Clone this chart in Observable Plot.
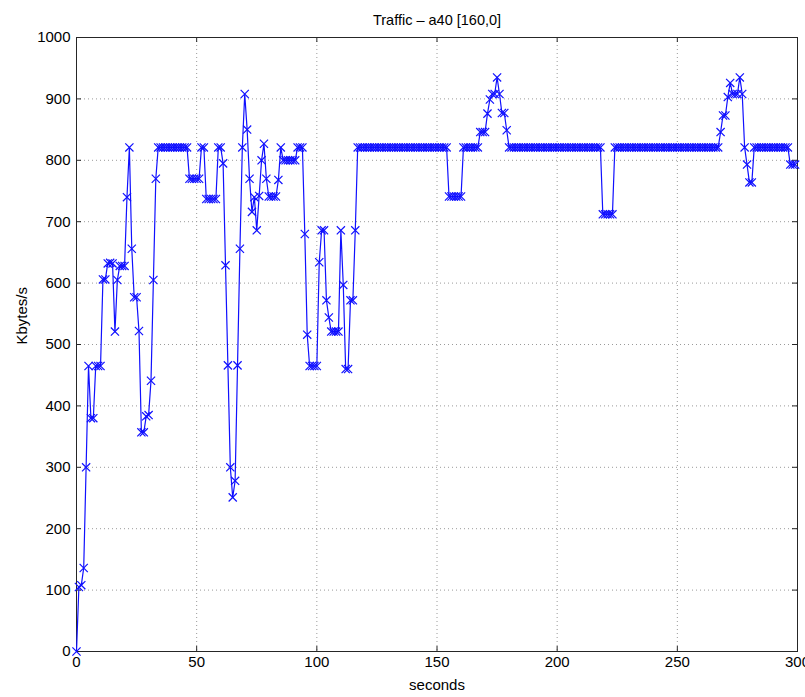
<!DOCTYPE html>
<html>
<head>
<meta charset="utf-8">
<script src="https://cdn.jsdelivr.net/npm/d3@7"></script>
<script src="https://cdn.jsdelivr.net/npm/@observablehq/plot@0.6"></script>
<style>
  html, body { margin: 0; padding: 0; background: #fff; }
  #chart svg { display: block; }
</style>
</head>
<body>
<div id="chart"></div>
<script>
// Throughput of link a40, sampled once per second.
const seconds = [
  0, 1, 2, 3, 4, 5, 6, 7, 8, 9, 10, 11, 12, 13, 14, 15, 16, 17, 18, 19,
  20, 21, 22, 23, 24, 25, 26, 27, 28, 29, 30, 31, 32, 33, 34, 35, 36, 37, 38, 39,
  40, 41, 42, 43, 44, 45, 46, 47, 48, 49, 50, 51, 52, 53, 54, 55, 56, 57, 58, 59,
  60, 61, 62, 63, 64, 65, 66, 67, 68, 69, 70, 71, 72, 73, 74, 75, 76, 77, 78, 79,
  80, 81, 82, 83, 84, 85, 86, 87, 88, 89, 90, 91, 92, 93, 94, 95, 96, 97, 98, 99,
  100, 101, 102, 103, 104, 105, 106, 107, 108, 109, 110, 111, 112, 113, 114, 115, 116, 117, 118, 119,
  120, 121, 122, 123, 124, 125, 126, 127, 128, 129, 130, 131, 132, 133, 134, 135, 136, 137, 138, 139,
  140, 141, 142, 143, 144, 145, 146, 147, 148, 149, 150, 151, 152, 153, 154, 155, 156, 157, 158, 159,
  160, 161, 162, 163, 164, 165, 166, 167, 168, 169, 170, 171, 172, 173, 174, 175, 176, 177, 178, 179,
  180, 181, 182, 183, 184, 185, 186, 187, 188, 189, 190, 191, 192, 193, 194, 195, 196, 197, 198, 199,
  200, 201, 202, 203, 204, 205, 206, 207, 208, 209, 210, 211, 212, 213, 214, 215, 216, 217, 218, 219,
  220, 221, 222, 223, 224, 225, 226, 227, 228, 229, 230, 231, 232, 233, 234, 235, 236, 237, 238, 239,
  240, 241, 242, 243, 244, 245, 246, 247, 248, 249, 250, 251, 252, 253, 254, 255, 256, 257, 258, 259,
  260, 261, 262, 263, 264, 265, 266, 267, 268, 269, 270, 271, 272, 273, 274, 275, 276, 277, 278, 279,
  280, 281, 282, 283, 284, 285, 286, 287, 288, 289, 290, 291, 292, 293, 294, 295, 296, 297, 298, 299
];

const kbytes = [
  // 0 - 19
  0, 105, 108, 136, 300, 465, 380, 380, 465, 465, 465, 606, 606, 632, 633, 632, 521, 605, 628, 628,
  // 20 - 39
  628, 740, 821, 656, 577, 577, 522, 357, 357, 383, 385, 441, 605, 770, 821, 821, 821, 821, 821, 821,
  // 40 - 59
  821, 821, 821, 821, 821, 821, 821, 770, 770, 770, 770, 770, 821, 821, 737, 737, 737, 737, 737, 821,
  // 60 - 79
  821, 795, 629, 466, 300, 251, 278, 466, 656, 821, 908, 850, 770, 716, 740, 686, 742, 800, 827, 770,
  // 80 - 99
  741, 741, 741, 741, 768, 821, 800, 800, 800, 800, 800, 800, 821, 821, 821, 680, 516, 465, 465, 465,
  // 100 - 119
  465, 634, 686, 686, 572, 544, 521, 521, 521, 521, 686, 597, 460, 460, 572, 572, 686, 821, 821, 821,
  // 120 - 139
  821, 821, 821, 821, 821, 821, 821, 821, 821, 821, 821, 821, 821, 821, 821, 821, 821, 821, 821, 821,
  // 140 - 159
  821, 821, 821, 821, 821, 821, 821, 821, 821, 821, 821, 821, 821, 821, 821, 741, 741, 741, 741, 741,
  // 160 - 179
  741, 821, 821, 821, 821, 821, 821, 821, 846, 846, 846, 876, 899, 908, 908, 935, 908, 877, 877, 849,
  // 180 - 199
  821, 821, 821, 821, 821, 821, 821, 821, 821, 821, 821, 821, 821, 821, 821, 821, 821, 821, 821, 821,
  // 200 - 219
  821, 821, 821, 821, 821, 821, 821, 821, 821, 821, 821, 821, 821, 821, 821, 821, 821, 821, 821, 712,
  // 220 - 239
  712, 712, 712, 712, 821, 821, 821, 821, 821, 821, 821, 821, 821, 821, 821, 821, 821, 821, 821, 821,
  // 240 - 259
  821, 821, 821, 821, 821, 821, 821, 821, 821, 821, 821, 821, 821, 821, 821, 821, 821, 821, 821, 821,
  // 260 - 279
  821, 821, 821, 821, 821, 821, 821, 821, 846, 873, 873, 903, 926, 908, 908, 908, 935, 908, 821, 793,
  // 280 - 299
  764, 764, 821, 821, 821, 821, 821, 821, 821, 821, 821, 821, 821, 821, 821, 821, 821, 793, 793, 793
];

const xTicks = [0, 50, 100, 150, 200, 250, 300];
const yTicks = [0, 100, 200, 300, 400, 500, 600, 700, 800, 900, 1000];

const titleText = "Traffic – a40 [160,0]";
const xLabel = "seconds";
const yLabel = "Kbytes/s";

const rows = seconds.map((s, i) => ({second: s, rate: kbytes[i]}));

// Canvas and frame geometry
const W = 805, H = 697;
const M = {top: 37, right: 8, bottom: 46, left: 76};
const frameW = W - M.left - M.right;
const frameH = H - M.top - M.bottom;
const tickLen = 5;

const lineBlue = "#1010ff";
const gridGrey = "#9a9a9a";
const axisInk = "#262626";

const chart = Plot.plot({
  width: W,
  height: H,
  marginTop: M.top,
  marginRight: M.right,
  marginBottom: M.bottom,
  marginLeft: M.left,
  style: {
    fontFamily: "'Liberation Sans', Arial, Helvetica, sans-serif",
    fontSize: "15px",
    background: "#fff",
    color: "#000",
    overflow: "hidden"
  },
  x: {domain: [0, 300], ticks: xTicks, tickSize: 0, tickPadding: 5, tickFormat: d3.format("d"), label: null},
  y: {domain: [0, 1000], ticks: yTicks, tickSize: 0, tickPadding: 6, tickFormat: d3.format("d"), label: null},
  marks: [
    // dotted grid
    Plot.ruleX(xTicks.slice(1, -1), {x: d => d, stroke: gridGrey, strokeWidth: 1, strokeDasharray: "1,3"}),
    Plot.ruleY(yTicks.slice(1, -1), {y: d => d, stroke: gridGrey, strokeWidth: 1, strokeDasharray: "1,3"}),
    // inward tick marks on all four sides
    Plot.tickX(xTicks, {x: d => d, insetTop: frameH - tickLen, stroke: axisInk}),
    Plot.tickX(xTicks, {x: d => d, insetBottom: frameH - tickLen, stroke: axisInk}),
    Plot.tickY(yTicks, {y: d => d, insetRight: frameW - tickLen, stroke: axisInk}),
    Plot.tickY(yTicks, {y: d => d, insetLeft: frameW - tickLen, stroke: axisInk}),
    Plot.frame({stroke: axisInk, strokeWidth: 1}),
    // the traffic series
    Plot.line(rows, {x: "second", y: "rate", stroke: lineBlue, strokeWidth: 1.2}),
    Plot.dot(rows, {x: "second", y: "rate", symbol: "times", r: 3.8, stroke: lineBlue, strokeWidth: 1.2}),
    // title and axis labels
    Plot.text([titleText], {text: d => d, frameAnchor: "top", dy: -23, fontSize: 14.5}),
    Plot.text([xLabel], {text: d => d, frameAnchor: "bottom", dy: 38, fontSize: 15}),
    Plot.text([yLabel], {text: d => d, frameAnchor: "left", dx: -54, rotate: -90, fontSize: 15})
  ]
});

document.getElementById("chart").appendChild(chart);
</script>
</body>
</html>
